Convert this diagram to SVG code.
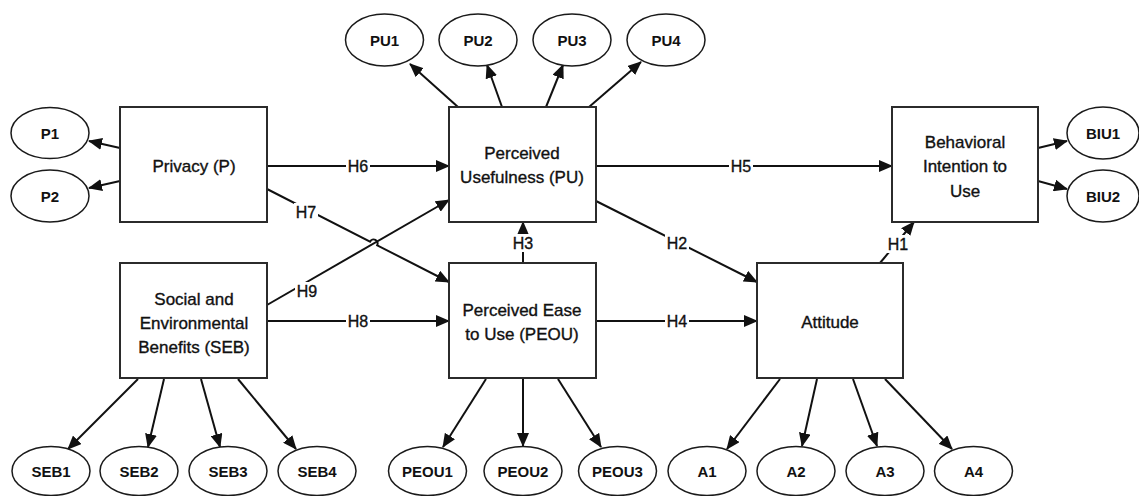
<svg xmlns="http://www.w3.org/2000/svg" width="1139" height="496" viewBox="0 0 1139 496">
<style>
.box{fill:#fff;stroke:#2b2b2b;stroke-width:2}
.ell{fill:#fff;stroke:#1a1a1a;stroke-width:1.5}
.bt{font-family:"Liberation Sans",Arial,sans-serif;font-size:17px;fill:#111;text-anchor:middle;stroke:#111;stroke-width:0.35}
.et{font-family:"Liberation Sans",Arial,sans-serif;font-size:15px;font-weight:bold;fill:#111;text-anchor:middle}
.lt{font-family:"Liberation Sans",Arial,sans-serif;font-size:16px;fill:#111;text-anchor:middle;stroke:#111;stroke-width:0.35}
.lb{fill:#fff;stroke:none}
.ln{fill:none;stroke:#111;stroke-width:2;marker-end:url(#ah)}
</style>
<defs>
<marker id="ah" markerUnits="userSpaceOnUse" markerWidth="14" markerHeight="12" refX="13" refY="6" orient="auto" viewBox="0 0 14 12">
<path d="M0,0 L14,6 L0,12 z" fill="#111"/>
</marker>
</defs>
<g id="connectors">
<line class="ln" x1="120" y1="148" x2="89" y2="141"/>
<line class="ln" x1="120" y1="181" x2="89" y2="188"/>
<line class="ln" x1="458" y1="107" x2="410" y2="64"/>
<line class="ln" x1="502" y1="107" x2="487" y2="65"/>
<line class="ln" x1="546" y1="107" x2="563" y2="65"/>
<line class="ln" x1="589" y1="107" x2="641" y2="62"/>
<line class="ln" x1="1038" y1="148" x2="1067" y2="141"/>
<line class="ln" x1="1038" y1="181" x2="1067" y2="189"/>
<line class="ln" x1="138" y1="379" x2="68" y2="449"/>
<line class="ln" x1="164" y1="379" x2="148" y2="447"/>
<line class="ln" x1="201" y1="379" x2="220" y2="447"/>
<line class="ln" x1="238" y1="379" x2="296" y2="449"/>
<line class="ln" x1="486" y1="379" x2="443" y2="447"/>
<line class="ln" x1="523" y1="379" x2="523" y2="446"/>
<line class="ln" x1="558" y1="379" x2="601" y2="447"/>
<line class="ln" x1="780" y1="379" x2="727" y2="449"/>
<line class="ln" x1="817" y1="379" x2="802" y2="446"/>
<line class="ln" x1="853" y1="379" x2="877" y2="446"/>
<line class="ln" x1="885" y1="379" x2="952" y2="449"/>
<line class="ln" x1="267" y1="166" x2="449" y2="166"/>
<line class="ln" x1="596" y1="166" x2="892" y2="166"/>
<line class="ln" x1="267" y1="321" x2="449" y2="321"/>
<line class="ln" x1="596" y1="321" x2="757" y2="321"/>
<line class="ln" x1="523" y1="263" x2="523" y2="222"/>
<line class="ln" x1="596" y1="201" x2="757" y2="282"/>
<line class="ln" x1="880" y1="263" x2="914" y2="222"/>
<line class="ln" x1="267" y1="305" x2="449" y2="200"/>
<path class="ln" d="M267,189 L370,241.7 A4,4 0 0 1 377.2,245.3 L449,282"/>
<rect class="lb" x="346" y="157" width="24" height="18"/><text class="lt" x="358" y="172">H6</text>
<rect class="lb" x="729" y="157" width="24" height="18"/><text class="lt" x="741" y="172">H5</text>
<rect class="lb" x="346" y="312" width="24" height="18"/><text class="lt" x="358" y="327">H8</text>
<rect class="lb" x="665" y="312" width="24" height="18"/><text class="lt" x="677" y="327">H4</text>
<rect class="lb" x="511" y="234" width="24" height="18"/><text class="lt" x="523" y="249">H3</text>
<rect class="lb" x="665" y="234" width="24" height="18"/><text class="lt" x="677" y="249">H2</text>
<rect class="lb" x="886" y="235" width="24" height="18"/><text class="lt" x="898" y="250">H1</text>
<rect class="lb" x="294" y="203" width="24" height="18"/><text class="lt" x="306" y="218">H7</text>
<rect class="lb" x="295" y="282" width="24" height="18"/><text class="lt" x="307" y="297">H9</text>
</g>
<g id="privacy"><rect class="box" x="120" y="107" width="147" height="115"/><text class="bt" x="194" y="172">Privacy (P)</text></g>
<g id="pu"><rect class="box" x="449" y="107" width="147" height="115"/><text class="bt" x="522" y="159">Perceived</text><text class="bt" x="522" y="183">Usefulness (PU)</text></g>
<g id="biu"><rect class="box" x="892" y="107" width="146" height="115"/><text class="bt" x="965" y="148">Behavioral</text><text class="bt" x="965" y="172">Intention to</text><text class="bt" x="965" y="197">Use</text></g>
<g id="seb"><rect class="box" x="120" y="263" width="147" height="115"/><text class="bt" x="194" y="305">Social and</text><text class="bt" x="194" y="329">Environmental</text><text class="bt" x="194" y="353">Benefits (SEB)</text></g>
<g id="peou"><rect class="box" x="449" y="263" width="147" height="115"/><text class="bt" x="522" y="316">Perceived Ease</text><text class="bt" x="522" y="340">to Use (PEOU)</text></g>
<g id="attitude"><rect class="box" x="757" y="263" width="146" height="115"/><text class="bt" x="830" y="328">Attitude</text></g>
<g id="p1"><ellipse class="ell" cx="50" cy="133" rx="39" ry="25.5"/><text class="et" x="50" y="138.5">P1</text></g>
<g id="p2"><ellipse class="ell" cx="50" cy="196" rx="39" ry="26"/><text class="et" x="50" y="201.5">P2</text></g>
<g id="pu1"><ellipse class="ell" cx="384.5" cy="40" rx="39" ry="26"/><text class="et" x="384.5" y="45.5">PU1</text></g>
<g id="pu2"><ellipse class="ell" cx="478" cy="40" rx="39" ry="26"/><text class="et" x="478" y="45.5">PU2</text></g>
<g id="pu3"><ellipse class="ell" cx="572" cy="40" rx="39" ry="26"/><text class="et" x="572" y="45.5">PU3</text></g>
<g id="pu4"><ellipse class="ell" cx="666" cy="40" rx="39" ry="26"/><text class="et" x="666" y="45.5">PU4</text></g>
<g id="biu1"><ellipse class="ell" cx="1103" cy="133" rx="36" ry="26"/><text class="et" x="1103" y="138.5">BIU1</text></g>
<g id="biu2"><ellipse class="ell" cx="1103" cy="196" rx="36" ry="26"/><text class="et" x="1103" y="201.5">BIU2</text></g>
<g id="seb1"><ellipse class="ell" cx="51" cy="471" rx="39" ry="24.5"/><text class="et" x="51" y="476.5">SEB1</text></g>
<g id="seb2"><ellipse class="ell" cx="139" cy="471" rx="39" ry="24.5"/><text class="et" x="139" y="476.5">SEB2</text></g>
<g id="seb3"><ellipse class="ell" cx="228" cy="471" rx="39" ry="24.5"/><text class="et" x="228" y="476.5">SEB3</text></g>
<g id="seb4"><ellipse class="ell" cx="317" cy="471" rx="39" ry="24.5"/><text class="et" x="317" y="476.5">SEB4</text></g>
<g id="peou1"><ellipse class="ell" cx="427.5" cy="471" rx="39" ry="24.5"/><text class="et" x="427.5" y="476.5">PEOU1</text></g>
<g id="peou2"><ellipse class="ell" cx="523" cy="471" rx="39" ry="24.5"/><text class="et" x="523" y="476.5">PEOU2</text></g>
<g id="peou3"><ellipse class="ell" cx="617.5" cy="471" rx="39" ry="24.5"/><text class="et" x="617.5" y="476.5">PEOU3</text></g>
<g id="a1"><ellipse class="ell" cx="707" cy="471" rx="39" ry="24.5"/><text class="et" x="707" y="476.5">A1</text></g>
<g id="a2"><ellipse class="ell" cx="796" cy="471" rx="39" ry="24.5"/><text class="et" x="796" y="476.5">A2</text></g>
<g id="a3"><ellipse class="ell" cx="885" cy="471" rx="39" ry="24.5"/><text class="et" x="885" y="476.5">A3</text></g>
<g id="a4"><ellipse class="ell" cx="973.5" cy="471" rx="39" ry="24.5"/><text class="et" x="973.5" y="476.5">A4</text></g>
</svg>
